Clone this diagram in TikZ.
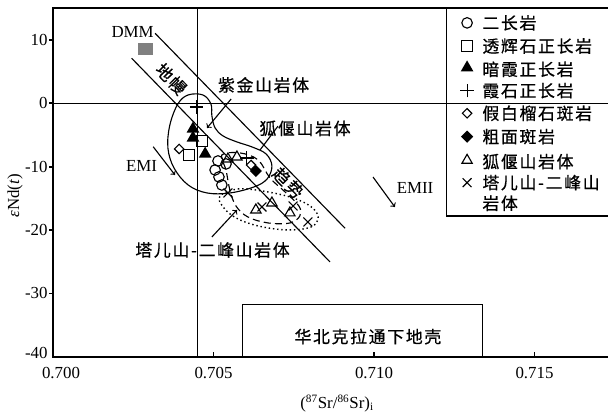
\documentclass[tikz,border=0pt]{standalone}
\usepackage{fontspec}
\setmainfont{Liberation Serif}
\newfontfamily\cjk[LetterSpace=10,FakeBold=0.6]{Noto Sans CJK SC}
\usetikzlibrary{shapes,arrows}

\begin{document}
\begin{tikzpicture}[x=0.8025cm, y=0.1585cm, line width=0.8pt, font=\fontsize{12}{14}\selectfont]
				\useasboundingbox (-1.651,-49.01) rectangle (17.29,16.29);
				\clip (-1.651,-49.01) rectangle (17.29,16.29);
				\tikzstyle{every node}=[inner sep=0pt];
				\tikzstyle{cn}=[font=\cjk\fontsize{12}{14}\selectfont];
				\tikzstyle{omk}=[draw, circle, minimum size=7.5pt];
				\tikzstyle{smk}=[draw, rectangle, minimum size=7.5pt];
				\tikzstyle{tmk}=[fill, regular polygon, regular polygon sides=3, minimum size=10.5pt];
				\tikzstyle{htmk}=[draw, regular polygon, regular polygon sides=3, minimum size=8.5pt];
				\tikzstyle{pmk}=[draw, cross out, rotate=45, minimum size=6pt];
				\tikzstyle{xmk}=[draw, cross out, minimum size=5.5pt];
				\tikzstyle{dmk}=[draw, diamond, minimum size=7pt];
				\tikzstyle{fdmk}=[fill, diamond, minimum size=9pt];
				% frame and ticks
				\draw[line width=1.3pt] (17.29,15) -- (0,15) -- (0,-40) -- (17.29,-40);
				\draw[line width=1.3pt] (0,10) -- (-0.13,10);
				\draw[line width=1.3pt] (0,0) -- (-0.13,0);
				\draw[line width=1.3pt] (0,-10) -- (-0.13,-10);
				\draw[line width=1.3pt] (0,-20) -- (-0.13,-20);
				\draw[line width=1.3pt] (0,-30) -- (-0.13,-30);
				\draw[line width=1.3pt] (5,-40) -- (5,-39.3);
				\draw[line width=1.3pt] (10,-40) -- (10,-39.3);
				\draw[line width=1.3pt] (15,-40) -- (15,-39.3);
				\node [anchor=east] (y10) at (-0.15,10) {10};
				\node [anchor=east] (y0) at (-0.15,0) {0};
				\node [anchor=east] (y1) at (-0.15,-10) {-10};
				\node [anchor=east] (y2) at (-0.15,-20) {-20};
				\node [anchor=east] (y3) at (-0.15,-30) {-30};
				\node [anchor=east] (y4) at (-0.15,-39.4) {-40};
				\node (x0) at (0.25,-42.5) {0.700};
				\node (x5) at (5,-42.5) {0.705};
				\node (x10) at (10,-42.5) {0.710};
				\node (x15) at (15,-42.5) {0.715};
				\node (xlab) at (8.85,-47.3) {(\textsuperscript{87}Sr/\textsuperscript{86}Sr)\textsubscript{i}};
				\node [rotate=90] (ylab) at (-1.18,-14.6) {\textit{ε}Nd(\textit{t})};
				% reference lines
				\coordinate (v1) at (4.51,15);
				\coordinate (v2) at (4.51,-40);
				\draw (v1) -- (v2);
				\coordinate (h1) at (0,0);
				\coordinate (h2) at (17.29,0);
				\draw (h1) -- (h2);
				% mantle trend
				\coordinate (u1) at (3.18,11.04);
				\coordinate (u2) at (9.10,-19.72);
				\coordinate (b1) at (2.45,7.10);
				\coordinate (b2) at (8.63,-25.03);
				\draw (u1) -- (u2);
				\draw (b1) -- (b2);
				\node [cn, rotate=-45.7] (t01) at (3.68,3.83) {地幔};
				\node [cn, rotate=-45.7] (t02) at (7.32,-12.57) {趋势};
				\node (dmmlab) at (2.48,11.17) {DMM};
				\node [fill=black!50, minimum width=10.5pt, minimum height=8.5pt] (dmm) at (2.88,8.56) {};
				% lower crust
				\draw (5.91,-40) rectangle (13.39,-31.8);
				\node [cn] (lc) at (9.81,-36.8) {华北克拉通下地壳};
				% fields
				\draw plot[smooth cycle, tension=0.6] coordinates {(4.21,1.31) (4.67,1.31) (4.92,-0.11) (4.95,-2.00) (5.05,-3.90) (5.30,-5.16) (5.73,-6.10) (6.20,-6.89) (6.64,-8.00) (6.82,-9.89) (6.67,-11.94) (6.26,-13.20) (5.51,-14.15) (4.80,-14.15) (4.21,-12.89) (3.77,-10.21) (3.58,-7.05) (3.64,-3.44) (3.89,-0.11)};
				\draw[dash pattern=on 5pt off 3pt] plot[smooth cycle, tension=0.6] coordinates {(5.26,-8.15) (5.83,-7.84) (6.39,-8.94) (6.76,-11.78) (7.23,-13.99) (7.66,-16.20) (7.69,-17.77) (7.38,-18.88) (6.70,-18.88) (6.07,-17.93) (5.70,-16.20) (5.51,-13.68) (5.39,-10.52)};
				\draw[dotted, line width=1pt] plot[smooth cycle, tension=0.6] coordinates {(5.20,-14.65) (5.76,-13.52) (6.51,-13.83) (7.38,-14.78) (8.01,-16.20) (8.26,-17.93) (8.04,-19.51) (7.29,-19.98) (6.39,-19.35) (5.70,-18.09) (5.30,-16.36)};
				% samples
				\node [omk] (o1) at (5.14,-9.10) {};
				\node [omk] (o2) at (5.05,-10.52) {};
				\node [omk] (o3) at (5.17,-11.62) {};
				\node [omk] (o4) at (5.26,-12.89) {};
				\node [omk] (o5) at (5.39,-9.57) {};
				\node [smk] (s1) at (4.24,-8.15) {};
				\node [smk] (s2) at (4.64,-5.95) {};
				\node [tmk] (f1) at (4.36,-4.05) {};
				\node [tmk] (f2) at (4.36,-5.47) {};
				\node [tmk] (f3) at (4.74,-8.00) {};
				\node [pmk] (q1) at (4.47,-0.58) {};
				\node [pmk] (q2) at (6.04,-8.63) {};
				\node [dmk] (d1) at (3.93,-7.21) {};
				\node [dmk] (d2) at (6.17,-9.73) {};
				\node [fdmk] (e1) at (6.32,-10.68) {};
				\node [htmk] (k1) at (5.45,-8.79) {};
				\node [htmk] (k2) at (5.73,-8.47) {};
				\node [htmk] (k3) at (6.32,-16.83) {};
				\node [htmk] (k4) at (6.82,-15.73) {};
				\node [htmk] (k5) at (7.38,-17.30) {};
				\node [xmk] (c1) at (5.45,-14.15) {};
				\node [xmk] (c2) at (6.51,-16.36) {};
				\node [xmk] (c3) at (7.48,-16.20) {};
				\node [xmk] (c4) at (7.94,-18.72) {};
				% labels and arrows
				\node [cn] (zj) at (6.56,2.89) {紫金山岩体};
				\coordinate (za) at (5.55,0.68);
				\coordinate (zb) at (4.80,-3.90);
				\draw[->] (za) -- (zb);
				\node [cn] (hy) at (7.85,-3.97) {狐偃山岩体};
				\coordinate (ha) at (7.01,-3.60);
				\coordinate (hb) at (6.45,-7.37);
				\draw (ha) -- (hb);
				\node [cn] (te) at (4.97,-23.14) {塔儿山-二峰山岩体};
				\coordinate (ta) at (4.95,-21.09);
				\coordinate (tb) at (5.73,-16.83);
				\draw[->] (ta) -- (tb);
				\node (emi) at (2.76,-9.89) {EMI};
				\coordinate (ea) at (3.12,-6.85);
				\coordinate (eb) at (3.80,-11.31);
				\draw[->] (ea) -- (eb);
				\node (emii) at (11.28,-13.36) {EMII};
				\coordinate (ma) at (9.97,-11.64);
				\coordinate (mb) at (10.65,-16.36);
				\draw[->] (ma) -- (mb);
				% legend
				\draw (17.6,-17.78) -- (12.27,-17.78) -- (12.27,15);
				\node [omk] (g1) at (12.90,12.68) {};
				\node [smk] (g2) at (12.90,9.03) {};
				\node [tmk] (g3) at (12.90,5.60) {};
				\node [pmk] (g4) at (12.90,1.99) {};
				\node [dmk] (g5) at (12.90,-1.58) {};
				\node [fdmk] (g6) at (12.90,-5.27) {};
				\node [htmk] (g7) at (12.90,-9.00) {};
				\node [xmk] (g8) at (12.90,-12.52) {};
				\node [cn, anchor=west] (l1) at (13.36,12.68) {二长岩};
				\node [cn, anchor=west] (l2) at (13.36,9.03) {透辉石正长岩};
				\node [cn, anchor=west] (l3) at (13.36,5.36) {暗霞正长岩};
				\node [cn, anchor=west] (l4) at (13.36,1.99) {霞石正长岩};
				\node [cn, anchor=west] (l5) at (13.36,-1.58) {假白榴石斑岩};
				\node [cn, anchor=west] (l6) at (13.36,-5.27) {粗面斑岩};
				\node [cn, anchor=west] (l7) at (13.36,-9.21) {狐偃山岩体};
				\node [cn, anchor=west] (l8) at (13.36,-12.52) {塔儿山-二峰山};
				\node [cn, anchor=west] (l9) at (13.36,-15.77) {岩体};
			\end{tikzpicture}
\end{document}
